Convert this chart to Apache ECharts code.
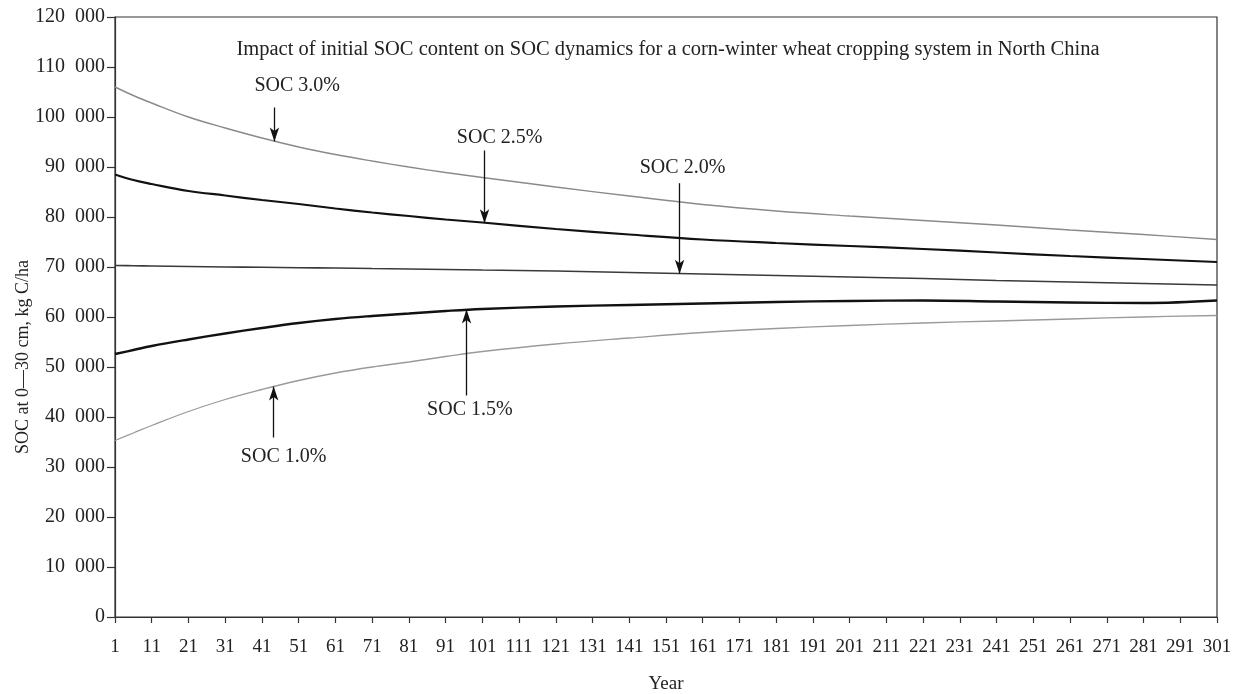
<!DOCTYPE html>
<html>
<head>
<meta charset="utf-8">
<script src="https://cdn.jsdelivr.net/npm/echarts@6/dist/echarts.min.js"></script>
<style>
html,body{margin:0;padding:0;background:#fff;}
#chart{width:1236px;height:694px;}
</style>
</head>
<body>
<div id="chart"></div>
<script>
const years = [1, 6, 11, 21, 31, 41, 51, 61, 71, 81, 91, 101, 121, 141, 161, 181, 201, 221, 241, 261, 281, 301];
const soc30 = [106000, 104300, 102800, 100000, 97800, 95800, 94000, 92500, 91200, 90000, 88900, 87900, 86000, 84200, 82500, 81200, 80200, 79300, 78400, 77400, 76500, 75500];
const soc25 = [88500, 87400, 86600, 85200, 84300, 83400, 82600, 81700, 80900, 80200, 79500, 78900, 77600, 76500, 75500, 74800, 74200, 73600, 72900, 72200, 71600, 71000];
const soc20 = [70300, 70250, 70200, 70100, 70000, 69950, 69850, 69800, 69700, 69600, 69500, 69400, 69200, 68900, 68600, 68300, 68000, 67700, 67300, 67000, 66700, 66400];
const soc15 = [52600, 53400, 54200, 55500, 56700, 57800, 58800, 59600, 60200, 60700, 61200, 61600, 62100, 62400, 62700, 63000, 63200, 63300, 63100, 62900, 62800, 63300];
const soc10 = [35300, 36800, 38300, 41100, 43500, 45500, 47300, 48800, 50000, 51000, 52100, 53100, 54600, 55800, 56900, 57700, 58300, 58800, 59200, 59600, 60000, 60300];
const xTicks = [1, 11, 21, 31, 41, 51, 61, 71, 81, 91, 101, 111, 121, 131, 141, 151, 161, 171, 181, 191, 201, 211, 221, 231, 241, 251, 261, 271, 281, 291, 301];
const seriesNames = ['SOC 3.0%', 'SOC 2.5%', 'SOC 2.0%', 'SOC 1.5%', 'SOC 1.0%'];
// annotation: arrow at year, from value -> to value; label at [year, value]
const arrowYear = [44.4, 101.6, 154.7, 96.7, 44.2];
const arrowFrom = [101900, 93300, 86760, 44300, 35900];
const arrowTo = [95100, 78760, 68640, 61500, 46100];
const labelYear = [50.6, 105.7, 155.5, 97.6, 46.9];
const labelValue = [106300, 95900, 89900, 41500, 32100];

const titleText = 'Impact of initial SOC content on SOC dynamics for a corn-winter wheat cropping system in North China';

const font = '"Liberation Serif", "DejaVu Serif", serif';
const seriesData = [soc30, soc25, soc20, soc15, soc10];
const lineColors = ['#8a8a8a', '#111111', '#3a3a3a', '#111111', '#9a9a9a'];
const lineWidths = [1.4, 2.2, 1.6, 2.4, 1.3];

function fmt(v) {
  if (v === 0) return '0';
  const s = String(v);
  return s.slice(0, s.length - 3) + '  ' + s.slice(s.length - 3);
}

const chart = echarts.init(document.getElementById('chart'), null, {renderer: 'canvas'});

const series = seriesNames.map((name, i) => ({
  name: name,
  type: 'line',
  data: years.map((y, k) => [y, seriesData[i][k]]),
  smooth: 0.4,
  showSymbol: false,
  symbol: 'none',
  lineStyle: {color: lineColors[i], width: lineWidths[i]},
  z: 2,
  markLine: {
    silent: true,
    symbol: ['none', 'arrow'],
    symbolSize: [7, 14],
    lineStyle: {color: '#111', width: 1.3, type: 'solid'},
    label: {show: false},
    data: [[{coord: [arrowYear[i], arrowFrom[i]]}, {coord: [arrowYear[i], arrowTo[i]]}]],
    animation: false
  },
  markPoint: {
    silent: true,
    symbol: 'circle',
    symbolSize: 1,
    itemStyle: {color: 'rgba(0,0,0,0)'},
    label: {show: true, position: 'inside', formatter: name, color: '#222', fontFamily: font, fontSize: 20},
    data: [{coord: [labelYear[i], labelValue[i]]}],
    animation: false
  }
}));

chart.setOption({
  animation: false,
  backgroundColor: '#fff',
  title: {
    text: titleText,
    left: 663,
    top: 34,
    textAlign: 'center',
    textStyle: {fontFamily: font, fontSize: 20.5, fontWeight: 'normal', color: '#222'}
  },
  grid: {left: 115, right: 19, top: 17, bottom: 77, containLabel: false, outerBoundsMode: 'none', show: true, borderColor: '#333', borderWidth: 1.2, backgroundColor: 'transparent'},
  xAxis: {
    type: 'value',
    min: 1,
    max: 301,
    name: 'Year',
    nameLocation: 'middle',
    nameGap: 58,
    nameMoveOverlap: false,
    nameTextStyle: {fontFamily: font, fontSize: 19, color: '#222'},
    axisLine: {show: true, onZero: false, lineStyle: {color: '#333', width: 1.2}},
    axisTick: {show: true, inside: false, length: 6, customValues: xTicks, lineStyle: {color: '#333', width: 1.2}},
    axisLabel: {customValues: xTicks, margin: 21, fontFamily: font, fontSize: 19, color: '#222', showMinLabel: true, showMaxLabel: true, hideOverlap: false},
    splitLine: {show: false}
  },
  yAxis: {
    type: 'value',
    min: 0,
    max: 120000,
    interval: 10000,
    name: 'SOC at 0\u201430 cm, kg C/ha',
    nameLocation: 'middle',
    nameGap: 83,
    nameRotate: 90,
    nameMoveOverlap: false,
    nameTextStyle: {fontFamily: font, fontSize: 18, color: '#222', padding: [0, 80, 0, 0]},
    axisLine: {show: true, lineStyle: {color: '#333', width: 1.2}},
    axisTick: {show: true, length: 8, lineStyle: {color: '#333', width: 1.2}},
    axisLabel: {margin: 10, fontFamily: font, fontSize: 20, color: '#222', formatter: fmt},
    splitLine: {show: false}
  },
  series: series
});
</script>
</body>
</html>
